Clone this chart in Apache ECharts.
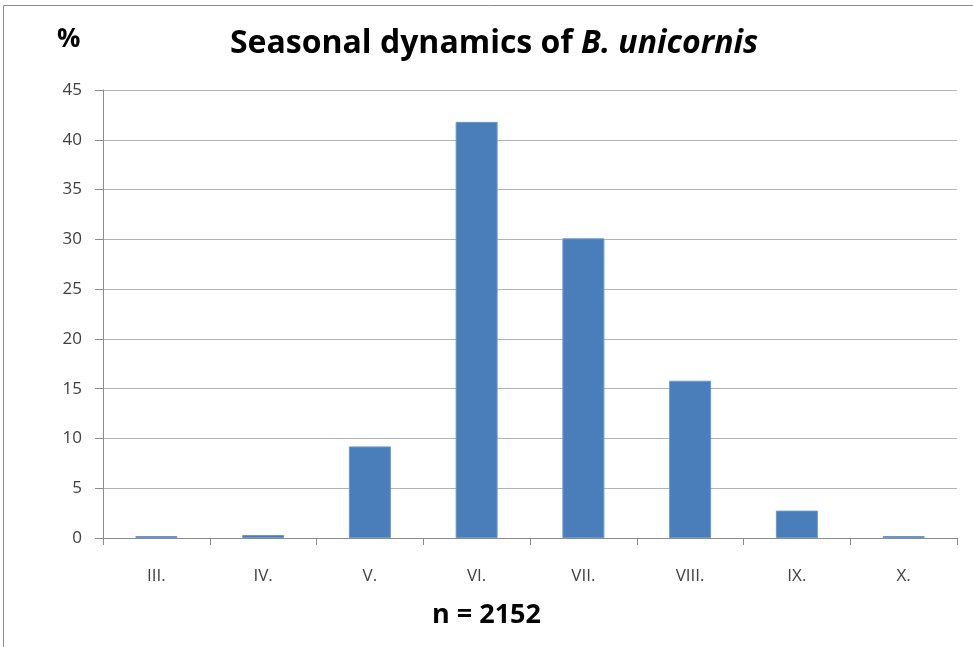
<!DOCTYPE html>
<html><head><meta charset="utf-8">
<script src="https://cdn.jsdelivr.net/npm/echarts@6/dist/echarts.min.js"></script>
<style>html,body{margin:0;padding:0;background:#fff}#c{width:973px;height:647px}</style>
</head><body><div id="c"></div>
<script>
const categories = ['III.', 'IV.', 'V.', 'VI.', 'VII.', 'VIII.', 'IX.', 'X.'];
const percentValues = [0.2, 0.3, 9.2, 41.8, 30.1, 15.8, 2.75, 0.2];
const yTicks = [0, 5, 10, 15, 20, 25, 30, 35, 40, 45];

const chart = echarts.init(document.getElementById('c'), null, {renderer: 'canvas'});
const fontFam = '"Open Sans", "Liberation Sans", sans-serif';
chart.setOption({
  animation: false,
  backgroundColor: '#ffffff',
  graphic: [
    {type: 'rect', shape: {x: 3.5, y: 5.5, width: 1000, height: 1000}, style: {fill: 'none', stroke: '#8c8c8c', lineWidth: 1}, silent: true},
    {type: 'text', left: 57, top: 27, style: {text: '%', font: 'bold 26px ' + fontFam, fill: '#000'}},
    {type: 'text', left: 'center', top: 602, style: {text: 'n = 2152', font: 'bold 27px ' + fontFam, fill: '#000'}}
  ],
  title: {
    text: 'Seasonal dynamics of {i|B. unicornis}',
    left: 489, textAlign: 'center', top: 23,
    textStyle: {
      fontFamily: fontFam, fontSize: 32, fontWeight: 'bold', color: '#000',
      rich: {i: {fontFamily: fontFam, fontSize: 32, fontWeight: 'bold', fontStyle: 'italic', color: '#000'}}
    }
  },
  grid: {left: 103, right: 16, top: 90, bottom: 109, containLabel: false},
  xAxis: {
    type: 'category', data: categories,
    axisLine: {lineStyle: {color: '#8c8c8c', width: 1}},
    axisTick: {show: true, length: 7, lineStyle: {color: '#8c8c8c'}},
    axisLabel: {color: '#404040', fontSize: 17, fontFamily: fontFam, margin: 30}
  },
  yAxis: {
    type: 'value', min: 0, max: 45, interval: 5,
    axisLine: {show: true, lineStyle: {color: '#8c8c8c', width: 1}},
    axisTick: {show: true, length: 8, lineStyle: {color: '#8c8c8c'}},
    splitLine: {lineStyle: {color: '#b3b3b3', width: 1}},
    axisLabel: {color: '#404040', fontSize: 17, fontFamily: fontFam, margin: 21,
      formatter: v => yTicks.includes(v) ? String(v) : ''}
  },
  series: [{
    type: 'bar', data: percentValues, barWidth: 42,
    itemStyle: {color: '#4a7ebb', borderColor: '#6b98cc', borderWidth: 1}
  }]
});
</script></body></html>
